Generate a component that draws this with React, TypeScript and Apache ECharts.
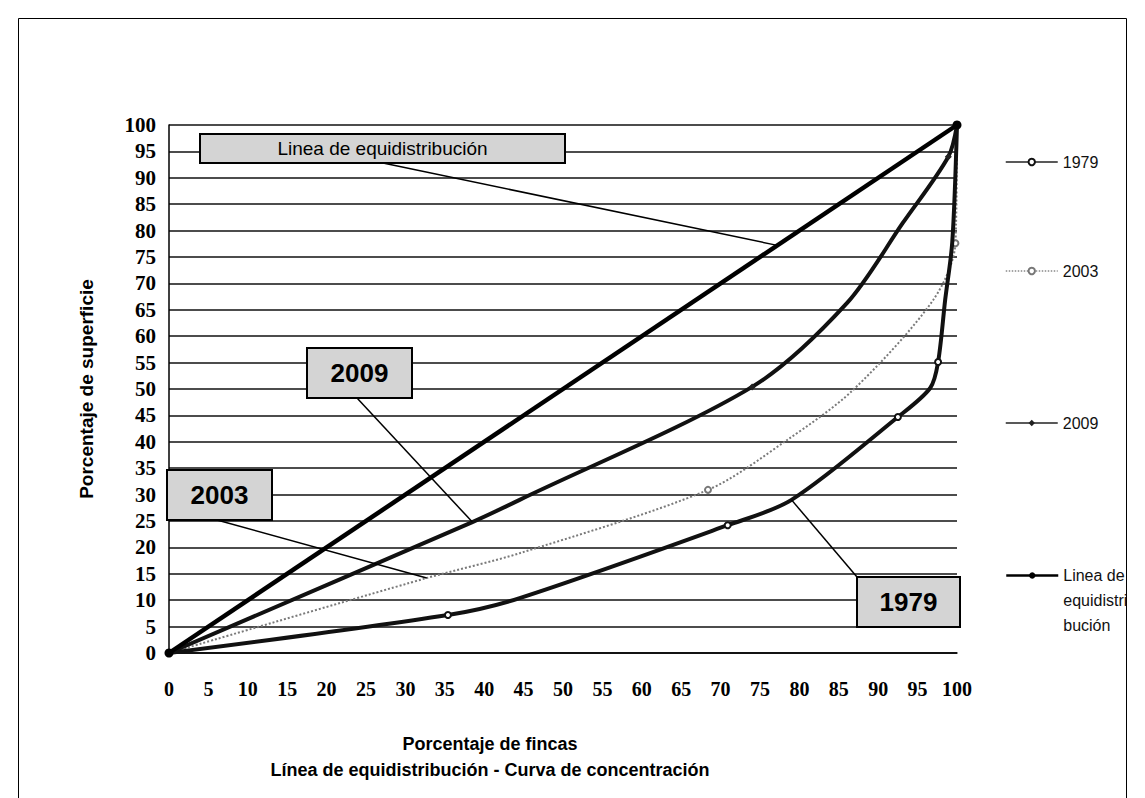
import React, { useEffect, useRef } from "react";
import * as echarts from "echarts";

// [porcentaje de fincas, porcentaje de superficie]
const serie1979: number[][] = [
  [0, 0], [35.4, 7.2], [44.5, 10.4], [70.9, 24.2], [79, 29], [92.5, 44.7],
  [96.6, 50.2], [97.6, 55.1], [98.5, 66.9], [99.4, 77.8], [100, 100],
];
const marked1979 = [1, 3, 5, 7];
const serie2003: number[][] = [
  [0, 0], [32.7, 14.2], [44.5, 18.9], [68.4, 30.9], [78.4, 40.3], [86.8, 49.8],
  [97, 66.9], [99.8, 77.6], [100, 100],
];
const marked2003 = [3, 7];
const serie2009: number[][] = [
  [0, 0], [38.5, 24.8], [44.5, 29], [74, 50.4], [86, 66.2], [93.1, 81.4],
  [98.9, 94], [100, 100],
];
const marked2009 = [3, 6];
const serieEquidistribucion: number[][] = [[0, 0], [100, 100]];
const markedEq = [0, 1];

const seriesNames = ["1979", "2003", "2009", "Linea de equidistribución"];
const legendLabels = ["1979", "2003", "2009", "\n\nLinea de\nequidistri\nbución"];

const yTitle = "Porcentaje de superficie";
const xTitleLines = ["Porcentaje de fincas", "Línea de equidistribución - Curva de concentración"];

// callouts: text, box rect in px, leader start px, leader target in data coords
const callouts = [
  { text: "Linea de equidistribución", box: [200, 134, 365, 29], from: [383, 163], target: [77.2, 77.2], size: 19, bold: false },
  { text: "2009", box: [307, 348, 105, 50], from: [357, 398], target: [38.5, 24.8], size: 26, bold: true },
  { text: "2003", box: [167, 470, 105, 50], from: [217, 520], target: [32.7, 14.2], size: 26, bold: true },
  { text: "1979", box: [857, 577, 103, 50], from: [857, 577], target: [79, 29], size: 26, bold: true },
];

const SANS = "'Liberation Sans', Arial, sans-serif";
const SERIF = "'Liberation Serif', serif";

export default function App() {
  const ref = useRef<HTMLDivElement>(null);
  useEffect(() => {
    document.body.style.margin = "0";
    const chart = echarts.init(ref.current!, null, { renderer: "svg" });
    const sizeFn = (marked: number[], s: number) => (_v: any, p: any) =>
      marked.indexOf(p.dataIndex) >= 0 ? s : 0;

    const legendBase = {
      orient: "vertical",
      left: 1000,
      itemWidth: 52,
      itemHeight: 8,
      textStyle: { fontFamily: SANS, fontSize: 16, color: "#111", lineHeight: 20 },
      formatter: (n: string) => legendLabels[seriesNames.indexOf(n)],
    };

    chart.setOption({
      animation: false,
      backgroundColor: "#fff",
      grid: { left: 169, right: 188, top: 125, bottom: 145 },
      xAxis: {
        type: "value", min: 0, max: 100, interval: 5,
        axisLine: { show: true, onZero: true, lineStyle: { color: "#000", width: 1.5 } },
        axisTick: { show: false },
        splitLine: { show: false },
        axisLabel: { fontFamily: SERIF, fontWeight: "bold", fontSize: 20, color: "#000", margin: 26 },
      },
      yAxis: {
        type: "value", min: 0, max: 100, interval: 5,
        name: yTitle, nameLocation: "middle", nameRotate: 90, nameGap: 73,
        nameTextStyle: { fontFamily: SANS, fontWeight: "bold", fontSize: 19, color: "#000" },
        axisLine: { show: true, lineStyle: { color: "#000", width: 1.5 } },
        axisTick: { show: false },
        splitLine: { show: true, lineStyle: { color: "#111", width: 1.6 } },
        axisLabel: { fontFamily: SERIF, fontWeight: "bold", fontSize: 21, color: "#000", margin: 13 },
      },
      legend: [
        { ...legendBase, data: ["1979"], top: 147, lineStyle: { width: 1.5, color: "#222" } },
        { ...legendBase, data: ["2003"], top: 256, lineStyle: { width: 1.5, color: "#888", type: "dotted" } },
        { ...legendBase, data: ["2009"], top: 408, lineStyle: { width: 1.5, color: "#222" } },
        {
          ...legendBase, data: ["Linea de equidistribución"], top: 508,
          lineStyle: { width: 2.5, color: "#000" },
          textStyle: { ...legendBase.textStyle, lineHeight: 25 },
        },
      ],
      series: [
        {
          name: "1979", type: "line", data: serie1979, smooth: 0.3,
          symbol: "emptyCircle", symbolSize: sizeFn(marked1979, 6),
          lineStyle: { color: "#111", width: 4 }, itemStyle: { color: "#111", borderWidth: 1 }, z: 3,
        },
        {
          name: "2003", type: "line", data: serie2003, smooth: 0.3,
          symbol: "emptyCircle", symbolSize: sizeFn(marked2003, 6),
          lineStyle: { color: "#7a7a7a", width: 2, type: "dotted" }, itemStyle: { color: "#777", borderWidth: 1 }, z: 2,
        },
        {
          name: "2009", type: "line", data: serie2009, smooth: 0.3,
          symbol: "diamond", symbolSize: sizeFn(marked2009, 7),
          lineStyle: { color: "#111", width: 4 }, itemStyle: { color: "#222" }, z: 3,
        },
        {
          name: "Linea de equidistribución", type: "line", data: serieEquidistribucion,
          symbol: "circle", symbolSize: sizeFn(markedEq, 9),
          lineStyle: { color: "#000", width: 4.5 }, itemStyle: { color: "#000" }, z: 4,
        },
      ],
    });

    const graphics: any[] = [
      {
        type: "rect", silent: true, z: 0,
        shape: { x: 18.5, y: 18.5, width: 1108, height: 800 },
        style: { fill: "none", stroke: "#000", lineWidth: 1 },
      },
      {
        type: "text", x: 490, y: 744, z: 10,
        style: { text: xTitleLines[0], fontFamily: SANS, fontWeight: "bold", fontSize: 18, fill: "#000", textAlign: "center", textVerticalAlign: "middle" },
      },
      {
        type: "text", x: 490, y: 770, z: 10,
        style: { text: xTitleLines[1], fontFamily: SANS, fontWeight: "bold", fontSize: 18, fill: "#000", textAlign: "center", textVerticalAlign: "middle" },
      },
    ];
    callouts.forEach((c) => {
      const t = chart.convertToPixel({ gridIndex: 0 }, c.target) as number[];
      graphics.push({
        type: "line", z: 20,
        shape: { x1: c.from[0], y1: c.from[1], x2: t[0], y2: t[1] },
        style: { stroke: "#000", lineWidth: 1.5 },
      });
      graphics.push({
        type: "rect", z: 21,
        shape: { x: c.box[0], y: c.box[1], width: c.box[2], height: c.box[3] },
        style: { fill: "#d4d4d4", stroke: "#000", lineWidth: 2 },
      });
      graphics.push({
        type: "text", z: 22,
        x: c.box[0] + c.box[2] / 2, y: c.box[1] + c.box[3] / 2,
        style: {
          text: c.text, fontFamily: SANS, fontWeight: c.bold ? "bold" : "normal", fontSize: c.size,
          fill: "#000", textAlign: "center", textVerticalAlign: "middle",
        },
      });
    });
    chart.setOption({ graphic: graphics });

    return () => chart.dispose();
  }, []);
  return <div ref={ref} style={{ width: 1145, height: 798 }} />;
}
